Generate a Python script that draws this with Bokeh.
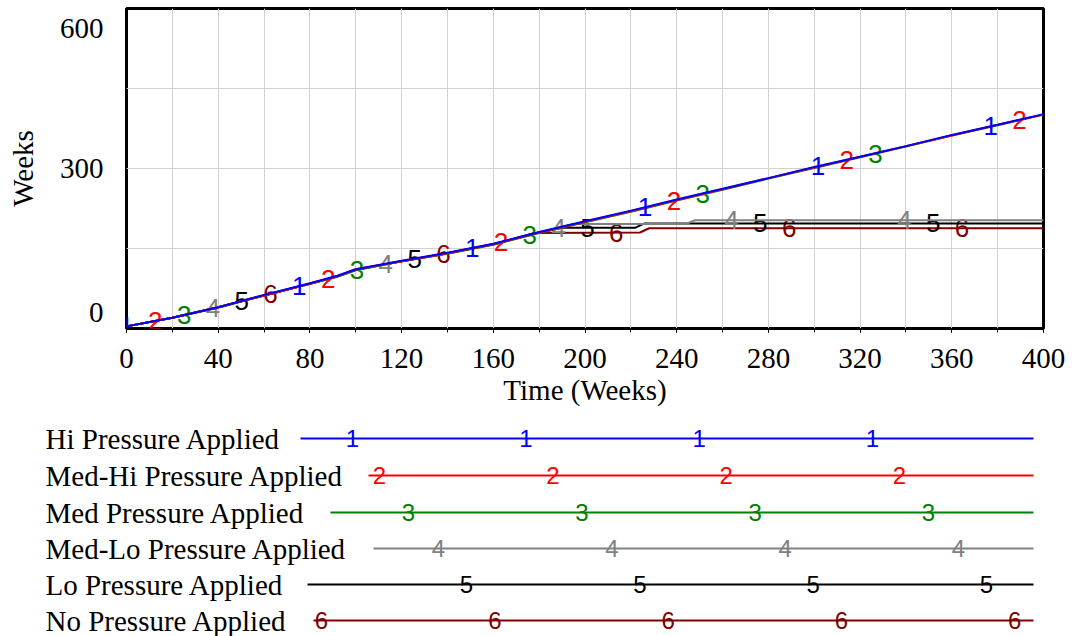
import numpy as np
from bokeh.plotting import figure
from bokeh.models import FixedTicker, Range1d, Label, LinearAxis
from bokeh.embed import file_html
from bokeh.resources import INLINE
from bokeh.core.properties import value

# ---------------- data ----------------
SERIES_NAMES = ["Hi Pressure Applied", "Med-Hi Pressure Applied", "Med Pressure Applied",
                "Med-Lo Pressure Applied", "Lo Pressure Applied", "No Pressure Applied"]
SERIES_TAGS = ["1", "2", "3", "4", "5", "6"]
COLORS = ["#0000ff", "#ff0000", "#008000", "#808080", "#000000", "#800000"]

TIME_FULL = [0, 20, 40, 60, 80, 92, 100, 120, 140, 160, 180, 200, 220, 240, 260, 280, 300, 320, 340, 360, 380, 400]
HI = [4, 20, 40, 63, 85, 99, 111, 127, 142, 159, 181, 201, 221, 242, 262, 282, 303, 322, 342, 363, 382, 402]
MED_HI = [4, 20, 40, 62, 84, 98, 111, 126, 141, 158, 180, 200, 220, 241, 261, 282, 302, 322, 342, 362, 382, 401]
MED = [4, 20, 39, 62, 84, 97, 109, 126, 140, 157, 179, 199, 219, 240, 260, 281, 301, 321, 341, 362, 381, 401]

TIME_MED_LO = [0, 20, 40, 60, 80, 92, 100, 120, 140, 160, 180, 195, 244, 248, 400]
MED_LO = [4, 20, 40, 62, 84, 98, 110, 126, 141, 158, 180, 196, 196, 203, 203]
TIME_LO = [0, 20, 40, 60, 80, 92, 100, 120, 140, 160, 180, 190, 222, 226, 400]
LO = [4, 20, 40, 62, 84, 98, 110, 126, 141, 158, 180, 189, 189, 197, 197]
TIME_NO = [0, 20, 40, 60, 80, 92, 100, 120, 140, 160, 178, 224, 228, 400]
NO = [4, 20, 40, 62, 84, 98, 110, 126, 141, 158, 179, 180, 188, 188]

SERIES_T = [TIME_FULL, TIME_FULL, TIME_FULL, TIME_MED_LO, TIME_LO, TIME_NO]
SERIES_V = [HI, MED_HI, MED, MED_LO, LO, NO]

X_TICKS = list(range(0, 401, 40))
X_MINOR = list(range(0, 401, 20))
Y_TICKS = [0, 300, 600]
Y_MINOR = [150, 450]

# ---------------- styling ----------------
SERIF = "Liberation Serif"
SANS = "Liberation Sans"
FS = "29px"
TAG_FS = "26px"
LEG_TAG_FS = "24px"
W = 1073
MAIN_H = 418
LEG_H = 218

MARK_OFFSET = 12.57   # weeks between series tags
MARK_SPACING = 75.4   # weeks between tags of one series

p = figure(width=W, height=MAIN_H, x_range=Range1d(0, 400), y_range=Range1d(0, 600),
           output_backend="svg", toolbar_location=None, y_axis_location=None,
           min_border_left=126, min_border_right=30, min_border_top=8, min_border_bottom=90)
p.background_fill_color = "white"
p.border_fill_color = "white"
p.outline_line_color = "black"
p.outline_line_width = 3

# ---- x axis
xa = p.xaxis[0]
xa.ticker = FixedTicker(ticks=X_TICKS, minor_ticks=X_MINOR)
xa.axis_line_color = None
xa.major_label_text_font = SERIF
xa.major_label_text_font_size = FS
xa.major_label_text_color = "black"
xa.axis_label = "Time (Weeks)"
xa.axis_label_text_font = SERIF
xa.axis_label_text_font_size = FS
xa.axis_label_text_font_style = "normal"
xa.axis_label_text_color = "black"
xa.major_tick_in = 0
xa.minor_tick_in = 0
xa.major_tick_out = 4
xa.minor_tick_out = 4
xa.major_tick_line_color = "black"
xa.minor_tick_line_color = "black"
xa.major_label_standoff = 16
xa.axis_label_standoff = 3

# ---- y axis: tick values written inside the label column the way the original does
y_ticker = FixedTicker(ticks=Y_TICKS, minor_ticks=Y_MINOR)
for yv, off, side in ((Y_TICKS[2], -20, "left"), (Y_TICKS[1], 0, "left"), (Y_TICKS[0], 16, "right")):
    p.add_layout(Label(x=0, y=yv, x_units="data", y_units="data", x_offset=-23, y_offset=off,
                       text=str(yv), text_font=SERIF, text_font_size=FS, text_color="black",
                       text_align="right", text_baseline="middle"), side)

ya = LinearAxis(ticker=y_ticker, axis_label="Weeks",
                major_label_overrides={t: "" for t in Y_TICKS},
                axis_line_color=None, major_tick_line_color=None, minor_tick_line_color=None,
                major_tick_in=0, major_tick_out=0, minor_tick_in=0, minor_tick_out=0,
                major_label_standoff=0, axis_label_standoff=0,
                major_label_text_font=SERIF, major_label_text_font_size=FS,
                axis_label_text_font=SERIF, axis_label_text_font_size=FS,
                axis_label_text_font_style="normal", axis_label_text_color="black")
p.add_layout(ya, "left")

grid_color = "#d2d2d2"
p.xgrid.grid_line_color = grid_color
p.xgrid.minor_grid_line_color = grid_color
p.ygrid.ticker = y_ticker
p.ygrid.grid_line_color = grid_color
p.ygrid.minor_grid_line_color = grid_color

for k in reversed(range(6)):
    t = SERIES_T[k]
    v = SERIES_V[k]
    p.line(t, v, line_color=COLORS[k], line_width=2)
    mt = np.arange(MARK_OFFSET * k, 400.001, MARK_SPACING)
    mv = np.interp(mt, t, v)
    p.text(x=mt, y=mv, text=[SERIES_TAGS[k]] * len(mt), text_color=COLORS[k],
           text_font=value(SANS), text_font_size=TAG_FS,
           text_align="center", text_baseline="middle")

# ---------------- legend panel ----------------
LEG_TEXT_X = 45
LEG_ROW_Y = [20, 57, 94, 130, 166, 202]
LEG_LINE_START = [300, 368, 330, 373, 307, 313]
LEG_LINE_END = 1033
LEG_MARK_START = [352, 379, 408, 438, 466, 321]
LEG_MARK_STEP = 173.3

lg = figure(width=W, height=LEG_H, x_range=Range1d(0, W), y_range=Range1d(LEG_H, 0),
            output_backend="svg", toolbar_location=None, min_border=0)
lg.axis.visible = False
lg.grid.visible = False
lg.outline_line_color = None
lg.background_fill_color = "white"
lg.border_fill_color = "white"

lg.text(x=[LEG_TEXT_X] * 6, y=LEG_ROW_Y, text=SERIES_NAMES, text_color="black",
        text_font=value(SERIF), text_font_size=FS,
        text_align="left", text_baseline="middle")
lg.segment(x0=LEG_LINE_START, y0=LEG_ROW_Y, x1=[LEG_LINE_END] * 6, y1=LEG_ROW_Y,
           line_color=COLORS, line_width=2)
for k in range(6):
    mx = np.arange(LEG_MARK_START[k], LEG_LINE_END + 0.1, LEG_MARK_STEP)
    lg.text(x=mx, y=[LEG_ROW_Y[k]] * len(mx), text=[SERIES_TAGS[k]] * len(mx),
            text_color=COLORS[k], text_font=value(SANS), text_font_size=LEG_TAG_FS,
            text_align="center", text_baseline="middle")

open("out.html", "w").write(file_html([p, lg], INLINE))
